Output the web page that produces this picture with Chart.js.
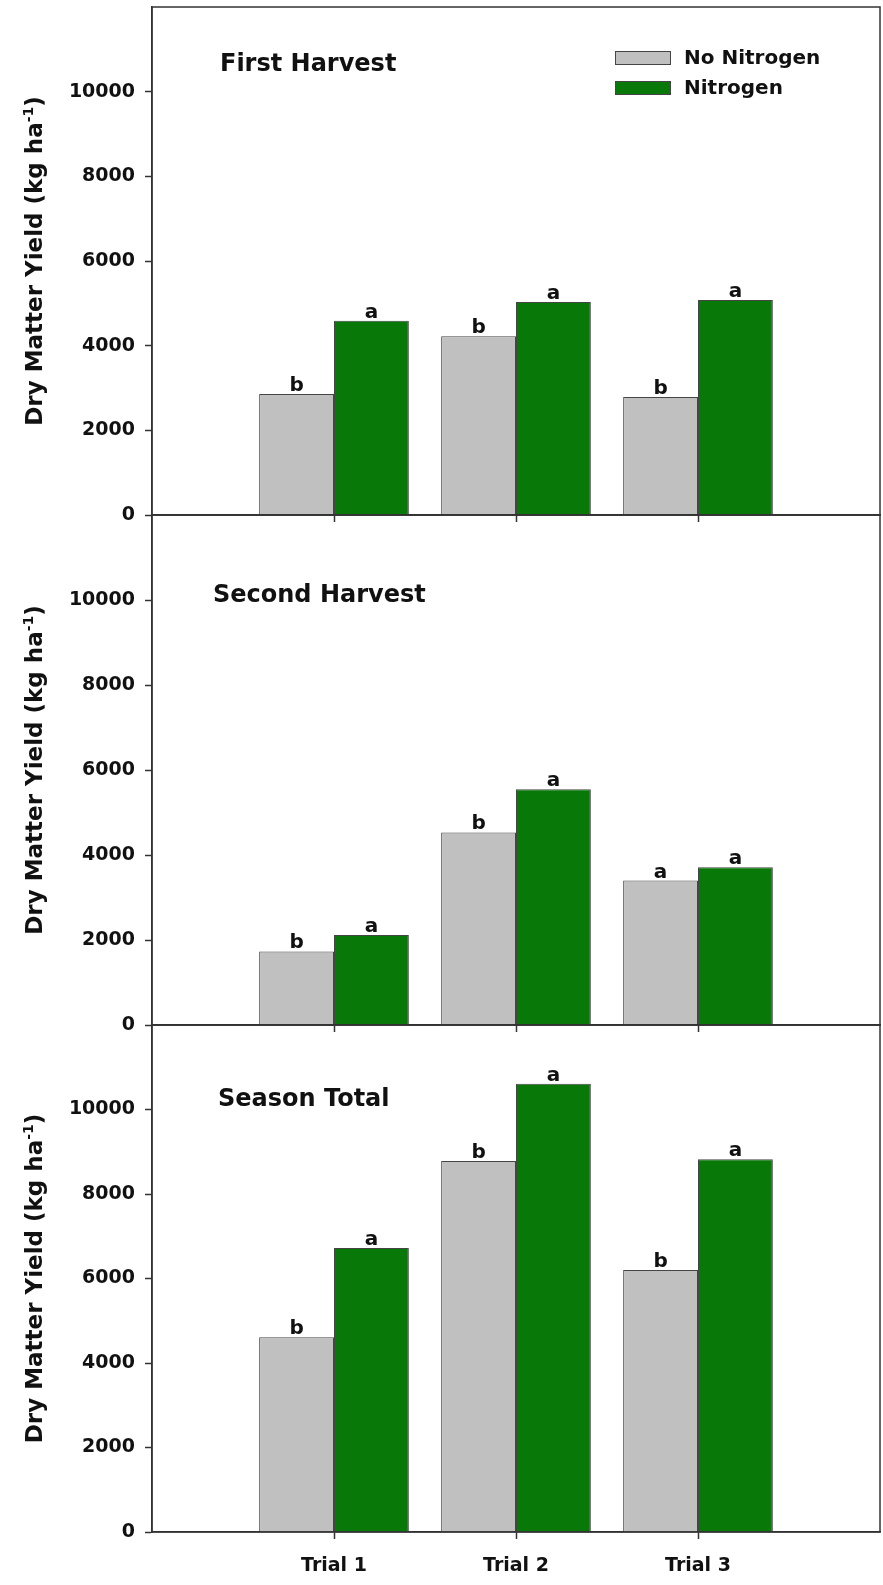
<!DOCTYPE html>
<html>
<head>
<meta charset="utf-8">
<title>Dry Matter Yield</title>
<script src="https://cdn.jsdelivr.net/npm/chart.js@4.4.0/dist/chart.umd.min.js"></script>
<style>
  html, body { margin: 0; padding: 0; background: #fff; }
  #wrap { position: relative; width: 883px; height: 1585px; }
  #wrap canvas { position: absolute; left: 0; top: 0; }
</style>
</head>
<body>
<div id="wrap">
  <canvas id="panel1" width="883" height="1585"></canvas>
  <canvas id="panel2" width="883" height="1585"></canvas>
  <canvas id="panel3" width="883" height="1585"></canvas>
</div>
<script>
const trials = ['Trial 1', 'Trial 2', 'Trial 3'];
const seriesNames = ['No Nitrogen', 'Nitrogen'];
const yTicks = [0, 2000, 4000, 6000, 8000, 10000];

// first harvest
const firstNoN = [2860, 4220, 2790];
const firstN = [4590, 5030, 5080];
const firstLetters = [['b', 'b', 'b'], ['a', 'a', 'a']];

// second harvest
const secondNoN = [1730, 4530, 3400];
const secondN = [2120, 5550, 3710];
const secondLetters = [['b', 'b', 'a'], ['a', 'a', 'a']];

// season total
const totalNoN = [4610, 8780, 6200];
const totalN = [6720, 10610, 8820];
const totalLetters = [['b', 'b', 'b'], ['a', 'a', 'a']];

const grayFill = '#c0c0c0';
const greenFill = '#087808';
const barEdge = '#454545';
const axisColor = '#333333';
const textColor = '#111111';
const fontFamily = '"DejaVu Sans", "Liberation Sans", Arial, sans-serif';
const pageH = 1585;

function framePlugin() {
    return {
        id: 'frame',
        afterDraw(chart) {
            const a = chart.chartArea;
            const c = chart.ctx;
            c.save();
            c.strokeStyle = axisColor;
            c.lineWidth = 1.5;
            c.strokeRect(a.left, a.top, a.right - a.left, a.bottom - a.top);
            c.restore();
        }
    };
}

// y title with a real small superscript
const yTitlePlugin = {
    id: 'yTitle',
    afterDraw(chart) {
        const a = chart.chartArea;
        const c = chart.ctx;
        const bigFont = 'bold 23px ' + fontFamily;
        const supFont = 'bold 14px ' + fontFamily;
        const head = 'Dry Matter Yield (kg ha';
        const sup = '-1';
        const tail = ')';
        c.save();
        c.fillStyle = textColor;
        c.textBaseline = 'alphabetic';
        c.textAlign = 'left';
        c.font = bigFont;
        const w1 = c.measureText(head).width;
        const w3 = c.measureText(tail).width;
        c.font = supFont;
        const w2 = c.measureText(sup).width;
        const total = w1 + w2 + w3;
        c.translate(0, (a.top + a.bottom) / 2);
        c.rotate(-Math.PI / 2);
        let x = -total / 2;
        c.font = bigFont;
        c.fillText(head, x, 42);
        x += w1;
        c.font = supFont;
        c.fillText(sup, x, 42 - 9);
        x += w2;
        c.font = bigFont;
        c.fillText(tail, x, 42);
        c.restore();
    }
};

function titlePlugin(text, dx, dy) {
    return {
        id: 'panelTitle',
        afterDraw(chart) {
            const a = chart.chartArea;
            const c = chart.ctx;
            c.save();
            c.font = 'bold 24px ' + fontFamily;
            c.fillStyle = textColor;
            c.textAlign = 'left';
            c.textBaseline = 'alphabetic';
            c.fillText(text, a.left + dx, a.top + dy);
            c.restore();
        }
    };
}

function letterPlugin(letters) {
    return {
        id: 'letters',
        afterDatasetsDraw(chart) {
            const c = chart.ctx;
            c.save();
            c.font = 'bold 20px ' + fontFamily;
            c.fillStyle = textColor;
            c.textAlign = 'center';
            c.textBaseline = 'alphabetic';
            letters.forEach((row, di) => {
                const meta = chart.getDatasetMeta(di);
                row.forEach((ch, j) => {
                    const bar = meta.data[j + 1];
                    c.fillText(ch, bar.x, bar.y - 3);
                });
            });
            c.restore();
        }
    };
}

const legendPlugin = {
    id: 'cornerLegend',
    afterDraw(chart) {
        const a = chart.chartArea;
        const c = chart.ctx;
        const x0 = a.left + 463;
        const y0 = a.top + 44;
        c.save();
        c.font = 'bold 20px ' + fontFamily;
        c.textAlign = 'left';
        c.textBaseline = 'middle';
        chart.data.datasets.forEach((ds, i) => {
            const y = y0 + i * 30;
            c.fillStyle = ds.backgroundColor;
            c.fillRect(x0, y, 56, 14);
            c.strokeStyle = ds.borderColor;
            c.lineWidth = 1;
            c.strokeRect(x0 + 0.5, y + 0.5, 55, 13);
            c.fillStyle = textColor;
            c.fillText(ds.label, x0 + 69, y + 8);
        });
        c.restore();
    }
};

function noPadding(s) {
    s.paddingTop = 0;
    s.paddingBottom = 0;
    s.paddingLeft = 0;
    s.paddingRight = 0;
}

function buildPanel(canvasId, p) {
    const pad = arr => [null].concat(arr, [null]);
    const plugins = [framePlugin(), yTitlePlugin, titlePlugin(p.title, p.titleDx, p.titleDy), letterPlugin(p.letters)];
    if (p.legend) plugins.push(legendPlugin);

    return new Chart(document.getElementById(canvasId), {
        type: 'bar',
        data: {
            labels: [''].concat(trials, ['']),
            datasets: [
                { label: seriesNames[0], data: pad(p.noN), backgroundColor: grayFill, borderColor: barEdge, borderWidth: 1 },
                { label: seriesNames[1], data: pad(p.withN), backgroundColor: greenFill, borderColor: barEdge, borderWidth: 1 }
            ]
        },
        options: {
            responsive: false,
            animation: false,
            events: [],
            layout: { padding: { left: 0, right: 3, top: p.top, bottom: pageH - p.bottom - p.xHeight } },
            datasets: { bar: { categoryPercentage: 0.8225, barPercentage: 1 } },
            plugins: { legend: { display: false }, tooltip: { enabled: false } },
            scales: {
                x: {
                    offset: false,
                    grid: {
                        offset: false,
                        drawOnChartArea: false,
                        tickLength: 7,
                        tickWidth: 1.5,
                        tickColor: ctx => (ctx.index === 0 || ctx.index === 4) ? 'rgba(0,0,0,0)' : axisColor
                    },
                    border: { color: axisColor, width: 1.5 },
                    ticks: {
                        display: p.showTrials,
                        autoSkip: false,
                        maxRotation: 0,
                        padding: 16,
                        color: textColor,
                        font: { family: fontFamily, size: 19, weight: 'bold' }
                    },
                    afterFit: s => { s.height = p.xHeight; noPadding(s); }
                },
                y: {
                    min: 0,
                    max: 12000,
                    grid: {
                        drawOnChartArea: false,
                        tickLength: 7,
                        tickWidth: 1.5,
                        tickColor: ctx => (ctx.tick && ctx.tick.value === 12000) ? 'rgba(0,0,0,0)' : axisColor
                    },
                    border: { color: axisColor, width: 1.5 },
                    ticks: {
                        stepSize: 2000,
                        padding: 10,
                        color: textColor,
                        font: { family: fontFamily, size: 19, weight: 'bold' },
                        callback: v => yTicks.includes(v) ? String(v) : ''
                    },
                    afterFit: s => { s.width = 152; noPadding(s); }
                }
            }
        },
        plugins: plugins
    });
}

buildPanel('panel1', {
    noN: firstNoN, withN: firstN, letters: firstLetters,
    title: 'First Harvest', titleDx: 68, titleDy: 64,
    top: 7, bottom: 515, xHeight: 10, showTrials: false, legend: true
});
buildPanel('panel2', {
    noN: secondNoN, withN: secondN, letters: secondLetters,
    title: 'Second Harvest', titleDx: 61, titleDy: 87,
    top: 515, bottom: 1025, xHeight: 10, showTrials: false, legend: false
});
buildPanel('panel3', {
    noN: totalNoN, withN: totalN, letters: totalLetters,
    title: 'Season Total', titleDx: 66, titleDy: 81,
    top: 1025, bottom: 1532, xHeight: 48, showTrials: true, legend: false
});
</script>
</body>
</html>
